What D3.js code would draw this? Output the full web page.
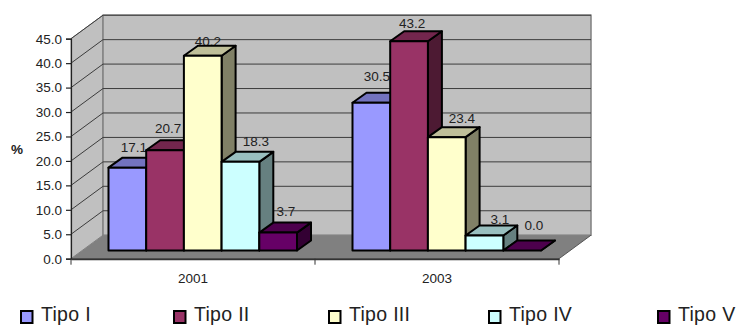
<!DOCTYPE html>
<html>
<head>
<meta charset="utf-8">
<script src="https://cdnjs.cloudflare.com/ajax/libs/d3/7.8.5/d3.min.js"></script>
<style>
html,body{margin:0;padding:0;background:#fff;overflow:hidden}
svg{display:block}
text{font-family:"Liberation Sans",Arial,sans-serif;fill:#222}
</style>
</head>
<body>
<svg id="chart" width="736" height="325"></svg>
<script>
// Chart values
const years = ["2001", "2003"];
const seriesNames = ["Tipo I", "Tipo II", "Tipo III", "Tipo IV", "Tipo V"];
const values2001 = [17.1, 20.7, 40.2, 18.3, 3.7];
const values2003 = [30.5, 43.2, 23.4, 3.1, 0.0];
const tickValues = [0, 5, 10, 15, 20, 25, 30, 35, 40, 45];
const seriesColors = ["#9999ff", "#993366", "#ffffcc", "#ccffff", "#660066"];

// Layout of the oblique 3D box
const left = 71, right = 559, floorY = 258.7, topY = 38.7;
const wallDx = 32, wallDy = -23.5;
const barShiftX = 9.75, barShiftY = -8.2;
const barDx = 14, barDy = -10;

const svg = d3.select("#chart");
const yAxis = d3.scaleLinear().domain([0, 45]).range([floorY, topY]);
const yBar = d3.scaleLinear().domain([0, 45]).range([floorY + barShiftY, floorY + barShiftY - 218]);
const xYear = d3.scaleBand().domain(years).range([left, right]);
const xSeries = d3.scaleBand().domain(seriesNames)
  .range([0, xYear.bandwidth()]).paddingOuter(0.736);

const poly = pts => pts.map(p => p.join(",")).join(" ");

// Walls and floor
svg.append("polygon").attr("points", poly([[left, floorY], [left, topY], [left + wallDx, topY + wallDy], [left + wallDx, floorY + wallDy]]))
  .attr("fill", "#c0c0c0").attr("stroke", "#808080").attr("stroke-width", 1);
svg.append("rect").attr("x", left + wallDx).attr("y", topY + wallDy)
  .attr("width", right - left).attr("height", floorY - topY)
  .attr("fill", "#c0c0c0").attr("stroke", "#808080").attr("stroke-width", 1.5);
svg.append("polygon").attr("points", poly([[left, floorY], [left + wallDx, floorY + wallDy], [right + wallDx, floorY + wallDy], [right, floorY]]))
  .attr("fill", "#808080");

// Gridlines run along the side wall and across the back wall
svg.append("g").selectAll("polyline").data(tickValues.filter(d => d > 0)).join("polyline")
  .attr("points", d => poly([[left, yAxis(d)], [left + wallDx, yAxis(d) + wallDy], [right + wallDx, yAxis(d) + wallDy]]))
  .attr("fill", "none").attr("stroke", "#3c3c3c").attr("stroke-width", 1);

// Axes
const axisLeft = d3.axisLeft(yAxis).tickValues(tickValues).tickFormat(d3.format(".1f")).tickSize(5).tickPadding(4);
const gy = svg.append("g").attr("transform", `translate(${left},0)`).call(axisLeft);
gy.selectAll("text").attr("font-size", 13.5);
gy.selectAll("line,path").attr("stroke", "#222").attr("stroke-width", 1.2);

const axisBottom = d3.axisBottom(xYear).tickSize(0).tickPadding(15);
const gx = svg.append("g").attr("transform", `translate(0,${floorY})`).call(axisBottom);
gx.select(".domain").attr("stroke", "#333").attr("stroke-width", 2);
gx.selectAll("text").attr("font-size", 13.5);
svg.append("g").selectAll("line").data([left, left + xYear.bandwidth(), right]).join("line")
  .attr("x1", d => d).attr("x2", d => d).attr("y1", floorY).attr("y2", floorY + 6)
  .attr("stroke", "#333");
svg.append("polyline").attr("points", poly([[right, floorY], [right + wallDx, floorY + wallDy]]))
  .attr("fill", "none").attr("stroke", "#555");

svg.append("text").attr("x", 17).attr("y", 154).attr("text-anchor", "middle")
  .attr("font-size", 13.5).attr("font-weight", "bold").text("%");

const bars = years.flatMap((year, g) => (g === 0 ? values2001 : values2003).map((v, i) => ({
  year, v, i,
  x0: xYear(year) + xSeries(seriesNames[i]) + barShiftX,
  w: xSeries.bandwidth()
})));

// Value labels sit behind the columns; each has its own placement relative to its column
const labelNudge = [
  [6.6, -10], [3, -12], [5.2, -4], [15.5, -10], [7.8, -11],
  [5.6, -16], [3, -8], [15.2, -9], [15.5, -6], [11.8, -15]
];
svg.append("g").selectAll("text").data(bars).join("text")
  .attr("x", (d, k) => d.x0 + d.w / 2 + labelNudge[k][0])
  .attr("y", (d, k) => yBar(d.v) + barDy + labelNudge[k][1] + 4.5)
  .attr("text-anchor", "middle").attr("font-size", 13.5)
  .text(d => d.v.toFixed(1));

// Columns, painted left to right so nearer faces overlap correctly
const shade = (c, k) => { const r = d3.rgb(c); return d3.rgb(r.r * k, r.g * k, r.b * k).formatHex(); };
const col = svg.append("g").selectAll("g").data(bars).join("g")
  .attr("stroke", "#000").attr("stroke-width", 2).attr("stroke-linejoin", "round");
col.append("polygon").attr("points", d => {
    const x = d.x0 + d.w, t = yBar(d.v), b = yBar(0);
    return poly([[x, t], [x + barDx, t + barDy], [x + barDx, b + barDy], [x, b]]);
  }).attr("fill", d => shade(seriesColors[d.i], 0.5));
col.append("polygon").attr("points", d => {
    const t = yBar(d.v);
    return poly([[d.x0, t], [d.x0 + barDx, t + barDy], [d.x0 + d.w + barDx, t + barDy], [d.x0 + d.w, t]]);
  }).attr("fill", d => shade(seriesColors[d.i], 0.75));
col.append("rect").attr("x", d => d.x0).attr("y", d => yBar(d.v))
  .attr("width", d => d.w).attr("height", d => yBar(0) - yBar(d.v))
  .attr("fill", d => seriesColors[d.i]);

// Legend
const legendStops = [20, 173, 328, 488, 657];
const lg = svg.append("g").selectAll("g").data(seriesNames).join("g")
  .attr("transform", (d, i) => `translate(${legendStops[i]},0)`);
lg.append("rect").attr("x", 1).attr("y", 311).attr("width", 11.5).attr("height", 12)
  .attr("fill", (d, i) => seriesColors[i]).attr("stroke", "#000").attr("stroke-width", 2);
lg.append("text").attr("x", 21).attr("y", 320.7).attr("font-size", 19.5).attr("letter-spacing", 0.3).text(d => d);
</script>
</body>
</html>
